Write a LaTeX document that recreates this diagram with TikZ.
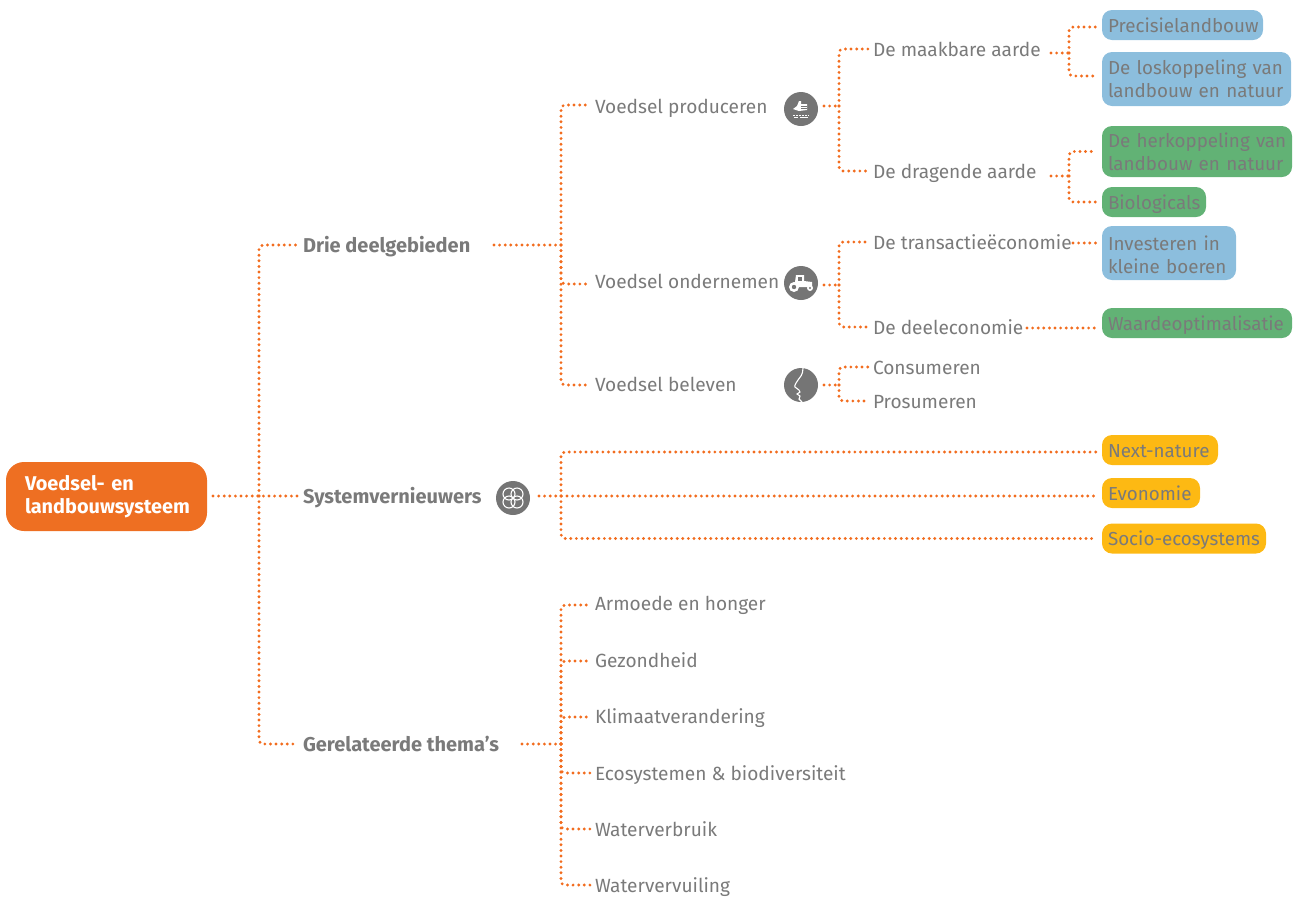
\documentclass[tikz,border=0pt]{standalone}
\usepackage{fontspec}
\setmainfont{Fira Sans}
\definecolor{orangeC}{HTML}{EE6F22}
\definecolor{dotC}{HTML}{F26C1E}
\definecolor{grayT}{HTML}{7A7A7A}
\definecolor{iconC}{HTML}{757575}
\definecolor{blueC}{HTML}{8CBEDD}
\definecolor{greenC}{HTML}{62B275}
\definecolor{yellowC}{HTML}{FDB913}
\tikzset{
  conn/.style={draw=dotC,line width=3.2pt,line cap=round,dash pattern=on 0pt off 5.6pt,rounded corners=4pt},
  lbl/.style={anchor=west,inner sep=0pt,outer sep=5pt,text=grayT,font=\fontsize{19.1}{23}\selectfont,text height=16pt,text depth=2pt},
  blbl/.style={lbl,font=\fontsize{20}{23}\selectfont\bfseries},
  tag/.style={anchor=west,fill=#1,rounded corners=10pt,inner xsep=6pt,inner ysep=0pt,outer sep=6pt,text=grayT,
     font=\fontsize{18.8}{23}\selectfont,align=left},
  stag/.style={tag=#1,minimum height=30pt,text height=16pt,text depth=2pt},
  icon/.style={circle,fill=iconC,minimum size=34pt,inner sep=0pt,outer sep=0pt},
  glyph/.style={draw=white,line width=1pt,fill=none},
}
\begin{document}
\begin{tikzpicture}[x=1pt,y=-1pt]
\useasboundingbox (0,0) rectangle (1301,898);
% root
\node[anchor=west,fill=orangeC,rounded corners=18pt,text=white,inner xsep=19pt,inner ysep=0pt,outer sep=6pt,
  minimum height=69pt,text width=163pt,align=left,font=\fontsize{19.9}{23}\selectfont\bfseries] (root) at (0,496.5) {Voedsel- en\\landbouwsysteem};
% level 1
\node[blbl] (drie) at (298,245) {Drie deelgebieden};
\node[blbl] (sys) at (298,496) {Systemvernieuwers};
\node[blbl] (gerel) at (298,744) {Gerelateerde thema's};
% level 2
\node[lbl] (prod) at (590,106) {Voedsel produceren};
\node[lbl] (ond) at (590,281) {Voedsel ondernemen};
\node[lbl] (bel) at (590,384) {Voedsel beleven};
\node[icon] (iProd) at (801,109) {};
\node[icon] (iOnd) at (801,283) {};
\node[icon] (iBel) at (801,385) {};
\node[icon] (iSys) at (513,498) {};
% level 3
\node[lbl] (maak) at (868,49) {De maakbare aarde};
\node[lbl] (drag) at (868,171) {De dragende aarde};
\node[lbl] (trans) at (868,242) {De transactieëconomie};
\node[lbl] (deel) at (868,327) {De deeleconomie};
\node[lbl] (cons) at (868,367) {Consumeren};
\node[lbl] (pros) at (868,401) {Prosumeren};
% themes
\node[lbl] (arm) at (590,603) {Armoede en honger};
\node[lbl] (gez) at (590,660) {Gezondheid};
\node[lbl] (klim) at (590,716) {Klimaatverandering};
\node[lbl] (eco) at (590,773) {Ecosystemen \& biodiversiteit};
\node[lbl] (wverb) at (590,829) {Waterverbruik};
\node[lbl] (wvuil) at (590,885) {Watervervuiling};
% tags
\node[stag=blueC,text width=149pt] (precis) at (1096,25) {\mbox{Precisielandbouw}};
\node[tag=blueC,minimum height=54pt,text width=177pt] (los) at (1096,79) {\mbox{De loskoppeling van}\\\mbox{landbouw en natuur}};
\node[tag=greenC,minimum height=51pt,text width=178pt] (her) at (1096,151.5) {\mbox{De herkoppeling van}\\\mbox{landbouw en natuur}};
\node[stag=greenC,text width=92pt] (bio) at (1096,202) {Biologicals};
\node[tag=blueC,minimum height=54pt,text width=122pt] (inv) at (1096,253) {\rule{0pt}{18pt}Investeren in\\kleine boeren};
\node[stag=greenC,text width=178pt] (waarde) at (1096,323) {\mbox{Waardeoptimalisatie}};
\node[stag=yellowC,text width=104pt] (next) at (1096,450) {Next-nature};
\node[stag=yellowC,text width=86pt] (evo) at (1096,493) {Evonomie};
\node[stag=yellowC,text width=152pt] (socio) at (1096,538.5) {\mbox{Socio-ecosystems}};
% free connector ends
\coordinate (sRoot) at (213,496);
\coordinate (jRoot) at (259,496);
\coordinate (sDrie) at (494,245);
\coordinate (jDrie) at (561,245);
\coordinate (sSys) at (539,496);
\coordinate (jSys) at (561,496);
\coordinate (sGer) at (522,744);
\coordinate (jGer) at (561,744);
\coordinate (sProd) at (824,106);
\coordinate (jProd) at (839,106);
\coordinate (sOnd) at (824,285);
\coordinate (jOnd) at (839,285);
\coordinate (sBel) at (824,385);
\coordinate (jBel) at (839,385);
\coordinate (sMaak) at (1051,53);
\coordinate (jMaak) at (1069,53);
\coordinate (sDrag) at (1051,176);
\coordinate (jDrag) at (1069,176);
\coordinate (sTrans) at (1073,243);
\coordinate (sDeel) at (1027,328);
% connectors
\draw[conn] (sRoot) -- (sys.west);
\draw[conn] (jRoot) |- (drie.west);
\draw[conn] (jRoot) |- (gerel.west);
\draw[conn] (sDrie) -- (jDrie);
\draw[conn] (jDrie) |- ([yshift=1pt]prod.west);
\draw[conn] (jDrie) |- ([yshift=-3pt]ond.west);
\draw[conn] (jDrie) |- ([yshift=-1pt]bel.west);
\draw[conn] (sSys) -- (evo.west |- sSys);
\draw[conn] (jSys) |- ([yshift=-2pt]next.west);
\draw[conn] (jSys) |- (socio.west);
\draw[conn] (sGer) -- (jGer);
\draw[conn] (jGer) |- ([yshift=-2pt]arm.west);
\draw[conn] (jGer) |- ([yshift=-1pt]gez.west);
\draw[conn] (jGer) |- ([yshift=-1pt]klim.west);
\draw[conn] (jGer) |- (eco.west);
\draw[conn] (jGer) |- (wverb.west);
\draw[conn] (jGer) |- (wvuil.west);
\draw[conn] (sProd) -- (jProd);
\draw[conn] (jProd) |- (maak.west);
\draw[conn] (jProd) |- (drag.west);
\draw[conn] (sOnd) -- (jOnd);
\draw[conn] (jOnd) |- (trans.west);
\draw[conn] (jOnd) |- (deel.west);
\draw[conn] (sBel) -- (jBel);
\draw[conn] (jBel) |- (cons.west);
\draw[conn] (jBel) |- (pros.west);
\draw[conn] (sMaak) -- (jMaak);
\draw[conn] (jMaak) |- ([yshift=-2pt]precis.west);
\draw[conn] (jMaak) |- ([yshift=3pt]los.west);
\draw[conn] (sDrag) -- (jDrag);
\draw[conn] (jDrag) |- (her.west);
\draw[conn] (jDrag) |- (bio.west);
\draw[conn] (sTrans) -- (inv.west |- sTrans);
\draw[conn] (sDeel) -- (waarde.west |- sDeel);
% icon: four petals
\begin{scope}[shift={(iSys.center)}]
  \foreach \dx/\dy in {-4/-4,4/-4,-4/4,4/4}
    \draw[glyph,line width=1.1pt] (\dx,\dy) circle[radius=6pt];
\end{scope}
% icon: hand above soil
\begin{scope}[shift={(iProd.center)}]
  \fill[white] (-8,0) -- (-4,-3) -- (-2,-8) -- (0,-8) -- (0,-5) -- (6,-5) -- (6,1) -- (-2,2) -- cycle;
  \draw[iconC,line width=.5pt] (0,-3) -- (6,-3) (0,-1) -- (6,-1);
  \draw[white,line width=.8pt,dash pattern=on 2pt off 1pt] (-8,6) -- (8,6);
  \draw[white,line width=.6pt] (-7,8) -- (-3,8) (-1,8) -- (7,8);
\end{scope}
% icon: tractor
\begin{scope}[shift={(iOnd.center)}]
  \fill[white] (-10,1) -- (-6,-1) -- (-5,-8) -- (3,-8) -- (3,-2) -- (11,-1) -- (11,4) -- (-10,4) -- cycle;
  \fill[iconC] (-3,-6.5) rectangle (1,-2);
  \fill[white] (-7,4) circle[radius=5pt];
  \fill[iconC] (-7,4) circle[radius=2.2pt];
  \fill[white] (9,5) circle[radius=3pt];
  \fill[iconC] (9,5) circle[radius=1.2pt];
\end{scope}
% icon: face profile
\begin{scope}[shift={(iBel.center)}]
  \draw[white,line width=1.1pt] (2,-17) .. controls (2,-10) and (-1,-8) .. (-3,-5)
     .. controls (-5,-2) and (-7,1) .. (-6,2) -- (-2,5) -- (-1,7) -- (-4,9) -- (-1,11) -- (-2,14) -- (1,17);
\end{scope}
\end{tikzpicture}
\end{document}
